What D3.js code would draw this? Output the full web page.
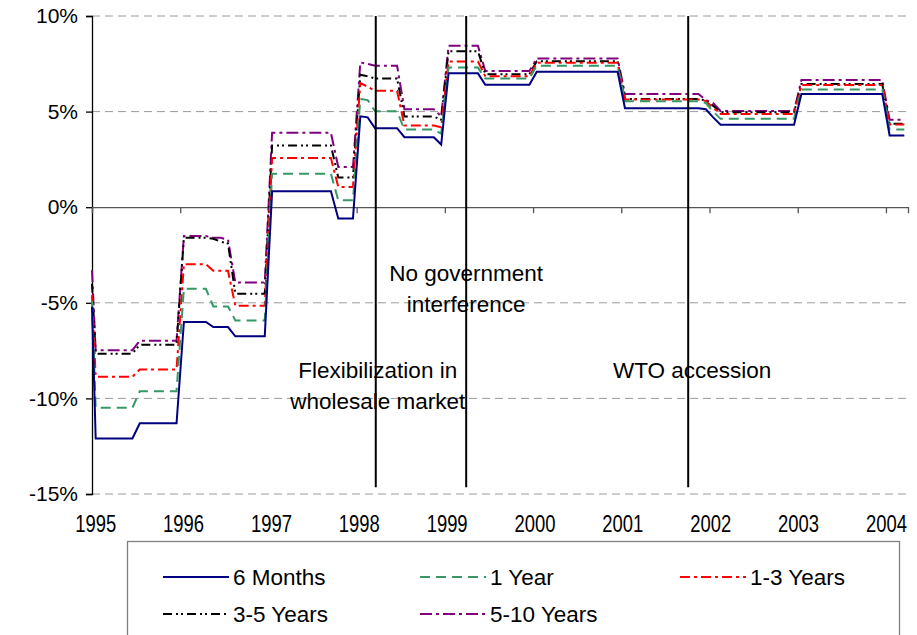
<!DOCTYPE html>
<html><head><meta charset="utf-8">
<script src="https://cdn.jsdelivr.net/npm/d3@7"></script>
<style>
html,body{margin:0;padding:0;background:#fff;}
svg{display:block;font-family:Arial,"Liberation Sans",sans-serif;}
</style></head>
<body><svg id="c" width="917" height="635"></svg>
<script>
// Opening value (1 Jan 1995) followed by monthly values Jan 1995 .. Mar 2004 (%)
const sixMonths = [-5.2,
 -12.1,-12.1,-12.1,-12.1,-12.1,-12.1, -11.3,-11.3,-11.3,-11.3,-11.3,-11.3,
 -6.0,-6.0,-6.0,-6.0,-6.27,-6.27,-6.27,-6.75,-6.75,-6.75,-6.75,-6.75,
 0.83,0.83,0.83,0.83,0.83,0.83,0.83,0.83,0.83,-0.59,-0.59,-0.59,
 4.75,4.7,4.13,4.13,4.13,4.13,3.66,3.66,3.66,3.66,3.66,3.28,
 7.0,7.0,7.0,7.0,7.0,6.4,6.4,6.4,6.4,6.4,6.4,6.4,
 7.08,7.08,7.08,7.08,7.08,7.08,7.08,7.08,7.08,7.08,7.08,7.08,
 5.18,5.18,5.18,5.18,5.18,5.18,5.18,5.18,5.18,5.18,5.18,5.12,
 4.7,4.31,4.31,4.31,4.31,4.31,4.31,4.31,4.31,4.31,4.31,4.31,
 5.92,5.92,5.92,5.92,5.92,5.92,5.92,5.92,5.92,5.92,5.92,5.92,
 3.75,3.75,3.75];
const oneYear = [-4.9,
 -10.49,-10.49,-10.49,-10.49,-10.49,-10.49, -9.62,-9.62,-9.62,-9.62,-9.62,-9.62,
 -4.27,-4.27,-4.27,-4.27,-5.19,-5.19,-5.19,-5.92,-5.92,-5.92,-5.92,-5.92,
 1.75,1.75,1.75,1.75,1.75,1.75,1.75,1.75,1.75,0.36,0.36,0.36,
 5.66,5.6,5.02,5.02,5.02,5.02,4.06,4.06,4.06,4.06,4.06,3.85,
 7.3,7.3,7.3,7.3,7.3,6.73,6.73,6.73,6.73,6.73,6.73,6.73,
 7.4,7.4,7.4,7.4,7.4,7.4,7.4,7.4,7.4,7.4,7.4,7.4,
 5.54,5.54,5.54,5.54,5.54,5.54,5.54,5.54,5.54,5.54,5.54,5.45,
 5.0,4.62,4.62,4.62,4.62,4.62,4.62,4.62,4.62,4.62,4.62,4.62,
 6.16,6.16,6.16,6.16,6.16,6.16,6.16,6.16,6.16,6.16,6.16,6.16,
 4.06,4.06,4.06];
const oneToThreeYears = [-4.6,
 -8.87,-8.87,-8.87,-8.87,-8.87,-8.87, -8.49,-8.49,-8.49,-8.49,-8.49,-8.49,
 -2.98,-2.98,-2.98,-2.98,-3.32,-3.32,-3.32,-5.16,-5.16,-5.16,-5.16,-5.16,
 2.57,2.57,2.57,2.57,2.57,2.57,2.57,2.57,2.57,1.06,1.06,1.06,
 6.49,6.3,6.09,6.09,6.09,6.09,4.27,4.27,4.27,4.27,4.27,4.18,
 7.62,7.62,7.62,7.62,7.62,6.85,6.85,6.85,6.85,6.85,6.85,6.85,
 7.55,7.55,7.55,7.55,7.55,7.55,7.55,7.55,7.55,7.55,7.55,7.55,
 5.63,5.63,5.63,5.63,5.63,5.63,5.63,5.63,5.63,5.63,5.63,5.55,
 5.2,4.88,4.88,4.88,4.88,4.88,4.88,4.88,4.88,4.88,4.88,4.88,
 6.39,6.39,6.39,6.39,6.39,6.39,6.39,6.39,6.39,6.39,6.39,6.39,
 4.32,4.32,4.32];
const threeToFiveYears = [-4.0,
 -7.66,-7.66,-7.66,-7.66,-7.66,-7.66, -7.19,-7.19,-7.19,-7.19,-7.19,-7.19,
 -1.6,-1.6,-1.6,-1.6,-1.65,-1.8,-1.9,-4.53,-4.53,-4.53,-4.53,-4.53,
 3.23,3.23,3.23,3.23,3.23,3.23,3.23,3.23,3.23,1.55,1.55,1.55,
 6.93,6.85,6.73,6.73,6.73,6.73,4.74,4.74,4.74,4.74,4.74,4.57,
 8.16,8.16,8.16,8.16,8.16,6.95,6.95,6.95,6.95,6.95,6.95,6.95,
 7.63,7.63,7.63,7.63,7.63,7.63,7.63,7.63,7.63,7.63,7.63,7.63,
 5.66,5.66,5.66,5.66,5.66,5.66,5.66,5.66,5.66,5.66,5.66,5.58,
 5.3,4.96,4.96,4.96,4.96,4.96,4.96,4.96,4.96,4.96,4.96,4.96,
 6.44,6.44,6.44,6.44,6.44,6.44,6.44,6.44,6.44,6.44,6.44,6.44,
 4.36,4.36,4.36];
const fiveToTenYears = [-3.3,
 -7.48,-7.48,-7.48,-7.48,-7.48,-7.48, -6.98,-6.98,-6.98,-6.98,-6.98,-6.98,
 -1.51,-1.51,-1.51,-1.51,-1.6,-1.6,-1.7,-3.94,-3.94,-3.94,-3.94,-3.94,
 3.89,3.89,3.89,3.89,3.89,3.89,3.89,3.89,3.89,2.1,2.1,2.1,
 7.57,7.5,7.4,7.4,7.4,7.4,5.12,5.12,5.12,5.12,5.12,4.75,
 8.44,8.44,8.44,8.44,8.44,7.12,7.12,7.12,7.12,7.12,7.12,7.12,
 7.78,7.78,7.78,7.78,7.78,7.78,7.78,7.78,7.78,7.78,7.78,7.78,
 5.92,5.92,5.92,5.92,5.92,5.92,5.92,5.92,5.92,5.92,5.92,5.6,
 5.45,5.03,5.03,5.03,5.03,5.03,5.03,5.03,5.03,5.03,5.03,5.03,
 6.65,6.65,6.65,6.65,6.65,6.65,6.65,6.65,6.65,6.65,6.65,6.65,
 4.57,4.57,4.57];

const yearLabels = ["1995","1996","1997","1998","1999","2000","2001","2002","2003","2004"];
const yTicks = [10,5,0,-5,-10,-15];
const seriesNames = ["6 Months","1 Year","1-3 Years","3-5 Years","5-10 Years"];
const seriesColors = ["#000080","#339966","#ff0000","#000000","#800080"];
const seriesDashes = [null,"10,6","10,4,3,4","9,4,2,3,2,4","12,4,3,4"];
// events: month offset from Jan 1995
const eventMonths = [38.6, 50.9, 81.1];
const eventLabels = [["Flexibilization in","wholesale market"],["No government","interference"],["WTO accession"]];
const totalMonths = 111;

const svg = d3.select("#c");
const x = d3.scaleLinear().domain([0,totalMonths]).range([92,908]);
const y = d3.scaleLinear().domain([-15,10]).range([494,16]);

// gridlines
svg.append("g").selectAll("line").data(yTicks.filter(d=>d!==0)).join("line")
  .attr("x1",x(0)).attr("x2",x(totalMonths))
  .attr("y1",d=>y(d)).attr("y2",d=>y(d))
  .attr("stroke","#9a9a9a").attr("stroke-width",1).attr("stroke-dasharray","8,5");

// y axis
const yAxis = d3.axisLeft(y).tickValues(yTicks).tickSize(6).tickPadding(8).tickFormat(d=>d+"%");
const gy = svg.append("g").attr("transform",`translate(${x(0)},0)`).call(yAxis);
gy.select(".domain").attr("stroke","#000").attr("stroke-width",1.3);
gy.selectAll(".tick line").attr("stroke","#000").attr("stroke-width",1.3);
gy.selectAll(".tick text").attr("font-size",21).attr("fill","#000")
  .attr("font-family","Arial, 'Liberation Sans', sans-serif");

// x axis at 0
const xAxis = d3.axisBottom(x).tickValues(d3.range(0,totalMonths,12)).tickSize(6).tickFormat("");
const gx = svg.append("g").attr("transform",`translate(0,${y(0)})`).call(xAxis);
gx.select(".domain").attr("stroke","#555").attr("stroke-width",1.3);
gx.selectAll(".tick line").attr("stroke","#555").attr("stroke-width",1.3);

// x labels at bottom (category centers)
svg.append("g").selectAll("text").data(yearLabels).join("text")
  .attr("x",(d,i)=>x(i*12+0.5) - i*0.35).attr("y",532)
  .attr("text-anchor","middle").attr("font-size",23)
  .attr("textLength",41).attr("lengthAdjust","spacingAndGlyphs")
  .text(d=>d);

// series
const allSeries = [sixMonths, oneYear, oneToThreeYears, threeToFiveYears, fiveToTenYears];
const tOf = i => i===0 ? 0 : i-0.5;
const line = d3.line().x((d,i)=>x(tOf(i))).y(d=>y(d));
const order = [4,3,2,1,0];
order.forEach(k=>{
  svg.append("path").datum(allSeries[k])
    .attr("d",line).attr("fill","none")
    .attr("stroke",seriesColors[k]).attr("stroke-width",2)
    .attr("stroke-dasharray",seriesDashes[k]);
});

// event lines
svg.append("g").selectAll("line").data(eventMonths).join("line")
  .attr("x1",d=>x(d)).attr("x2",d=>x(d))
  .attr("y1",y(10)).attr("y2",y(-14.65))
  .attr("stroke","#000").attr("stroke-width",2);

// event labels
const labelPos = [{dx:2,y0:370},{dx:0,y0:273},{dx:4,y0:370}];
eventLabels.forEach((lines,k)=>{
  lines.forEach((t,j)=>{
    svg.append("text").attr("x",x(eventMonths[k])+labelPos[k].dx)
      .attr("y",labelPos[k].y0+31*j).attr("dy","0.35em")
      .attr("text-anchor","middle").attr("font-size",22.5).attr("fill","#000").text(t);
  });
});

// legend
svg.append("rect").attr("x",127.5).attr("y",541.5).attr("width",772).attr("height",100)
  .attr("fill","#fff").attr("stroke","#808080").attr("stroke-width",1.3);
const legPos = [[163,577],[420,577],[680,577],[163,614],[420,614]];
seriesNames.forEach((n,k)=>{
  const [lx,ly] = legPos[k];
  svg.append("line").attr("x1",lx).attr("x2",lx+66).attr("y1",ly).attr("y2",ly)
    .attr("stroke",seriesColors[k]).attr("stroke-width",2).attr("stroke-dasharray",seriesDashes[k]);
  svg.append("text").attr("x",lx+70).attr("y",ly).attr("dy","0.35em")
    .attr("font-size",22.5).attr("fill","#000").text(n);
});
</script></body></html>
